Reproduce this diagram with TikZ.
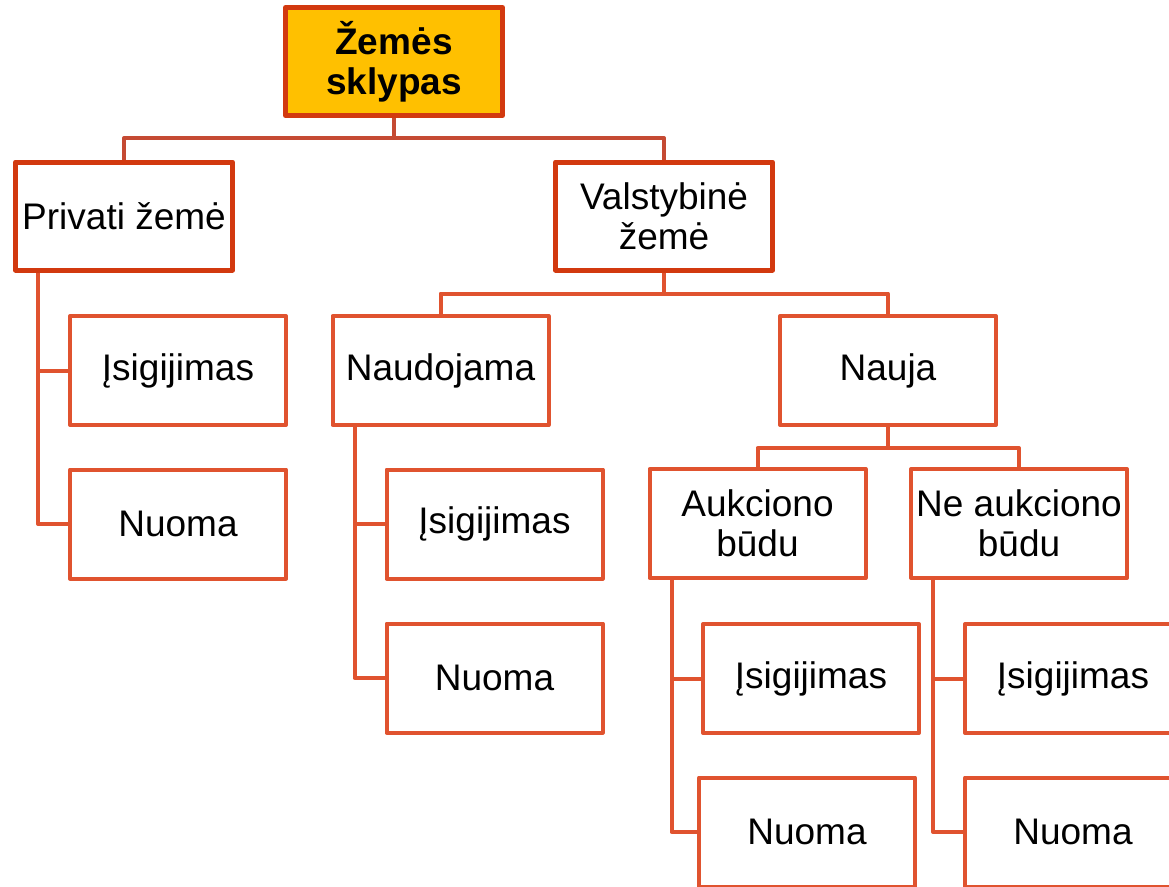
\documentclass[tikz,border=0pt]{standalone}
\usepackage{fontspec}
\setmainfont{Liberation Sans}
\definecolor{topred}{HTML}{D2390F}
\definecolor{boxred}{HTML}{E0532F}
\definecolor{linkred}{HTML}{C54A33}
\definecolor{gold}{HTML}{FFC000}
\begin{document}
\begin{tikzpicture}[x=1pt,y=-1pt,
  every node/.style={font=\fontsize{37}{40}\selectfont, align=center, inner sep=0pt},
  headbox/.style={draw=topred, line width=5pt, line join=round, minimum width=217pt, minimum height=108pt},
  subbox/.style={draw=boxred, line width=4pt, line join=round, fill=white, minimum width=216pt, minimum height=109pt},
  toplink/.style={draw=linkred, line width=4pt, line join=round},
  sublink/.style={draw=boxred, line width=4pt, line join=round}]
\useasboundingbox (0,0) rectangle (1169,886);
\clip (0,0) rectangle (1169,886);

% level 0 and 1
\node[headbox, fill=gold, font=\fontsize{37}{40}\selectfont\bfseries] (root) at (394,61.5) {Žemės\\sklypas};
\node[headbox, fill=white] (priv) at (124,216) {Privati žemė};
\node[headbox, fill=white] (valst) at (664,216) {Valstybinė\\žemė};

% level 2
\node[subbox] (pisig) at (178,370.5) {Įsigijimas};
\node[subbox] (pnuom) at (178,524) {Nuoma};
\node[subbox] (naud) at (440.5,370.5) {Naudojama};
\node[subbox] (nauja) at (888,370.5) {Nauja};

% level 3
\node[subbox] (nisig) at (494.5,524) {Įsigijimas};
\node[subbox] (nnuom) at (494.5,678) {Nuoma};
\node[subbox] (auk) at (757.5,523.5) {Aukciono\\būdu};
\node[subbox] (neauk) at (1019,523.5) {Ne aukciono\\būdu};

% level 4
\node[subbox] (aisig) at (811,678.5) {Įsigijimas};
\node[subbox] (anuom) at (807,832) {Nuoma};
\node[subbox] (eisig) at (1073,678.5) {Įsigijimas};
\node[subbox] (enuom) at (1073,832) {Nuoma};

% connectors
\draw[toplink] (root.south) -- ++(0,20) -| (priv.north);
\draw[toplink] (root.south) -- ++(0,20) -| (valst.north);

\draw[sublink] (valst.south) -- ++(0,21) -| (naud.north);
\draw[sublink] (valst.south) -- ++(0,21) -| (nauja.north);

\draw[sublink] (nauja.south) -- ++(0,21) -| (auk.north);
\draw[sublink] (nauja.south) -- ++(0,21) -| (neauk.north);

\draw[sublink] ([xshift=25pt]priv.south west) |- (pisig.west);
\draw[sublink] ([xshift=25pt]priv.south west) |- (pnuom.west);

\draw[sublink] ([xshift=24pt]naud.south west) |- (nisig.west);
\draw[sublink] ([xshift=24pt]naud.south west) |- (nnuom.west);

\draw[sublink] ([xshift=24pt]auk.south west) |- (aisig.west);
\draw[sublink] ([xshift=24pt]auk.south west) |- (anuom.west);

\draw[sublink] ([xshift=24pt]neauk.south west) |- (eisig.west);
\draw[sublink] ([xshift=24pt]neauk.south west) |- (enuom.west);
\end{tikzpicture}
\end{document}
